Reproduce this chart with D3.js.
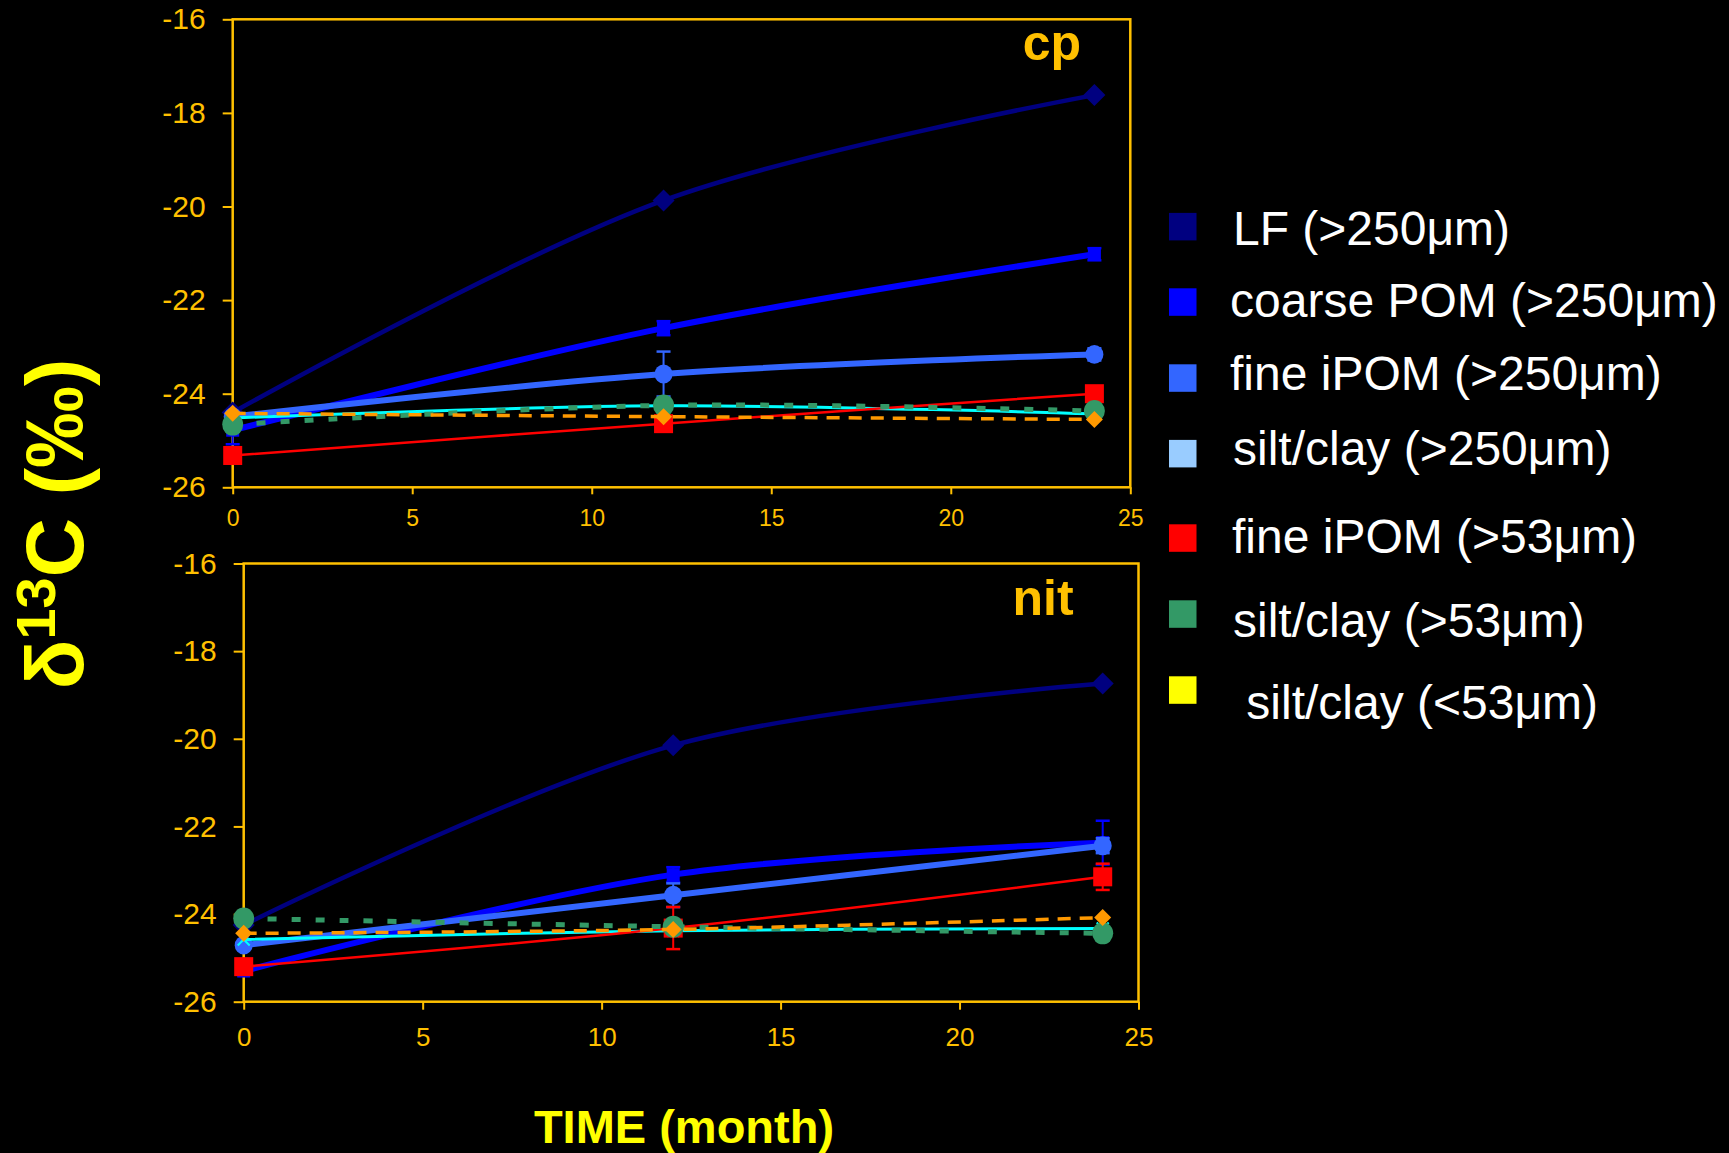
<!DOCTYPE html>
<html>
<head>
<meta charset="utf-8">
<script src="https://cdn.jsdelivr.net/npm/d3@7"></script>
<style>
  body { margin: 0; background: #000; }
  svg { display: block; }
  text { font-family: "Liberation Sans", Arial, sans-serif; }
</style>
</head>
<body>
<div id="chart"></div>
<script>
// sampling times (months)
var months = [0, 12, 24];
var xTicks = [0, 5, 10, 15, 20, 25];
var yTicks = [-16, -18, -20, -22, -24, -26];

var legendLabels = ["LF (>250\u03bcm)", "coarse POM (>250\u03bcm)", "fine iPOM (>250\u03bcm)",
  "silt/clay (>250\u03bcm)", "fine iPOM (>53\u03bcm)", "silt/clay (>53\u03bcm)", " silt/clay (<53\u03bcm)"];
var legendColors = ["#000080", "#0000FF", "#3366FF", "#99CCFF", "#FF0000", "#339966", "#FFFF00"];

// cp panel, delta 13C values
var cpLF       = [-24.40, -19.87, -17.62];
var cpCoarse   = [-24.78, -22.60, -21.02];
var cpFine250  = [-24.49, -23.58, -23.16];
var cpSilt250  = [-24.52, -24.26, -24.43];
var cpFine53   = [-25.32, -24.64, -24.00];
var cpSilt53   = [-24.66, -24.25, -24.37];
var cpSiltFine = [-24.42, -24.49, -24.55];
var cpCoarseErr  = [0.30, 0.15, 0.13];
var cpFine250Err = [0.08, 0.48, 0.13];

// nit panel
var nitLF       = [-24.25, -20.15, -18.74];
var nitCoarse   = [-25.30, -23.10, -22.37];
var nitFine250  = [-24.71, -23.57, -22.44];
var nitSilt250  = [-24.58, -24.38, -24.33];
var nitFine53   = [-25.20, -24.32, -23.15];
var nitSilt53   = [-24.10, -24.29, -24.44];
var nitSiltFine = [-24.44, -24.35, -24.08];
var nitCoarseErr  = [0.05, 0.17, 0.50];
var nitFine250Err = [0.08, 0.27, 0.17];
var nitFine53Err  = [0, 0.48, 0.30];

var gold = "#FFC000";
var width = 1729, height = 1153;

// series look, in Excel order (later ones on top)
var styles = [
  {color: "#000080", w: 4.5, dash: null,    marker: "diamond", s: 11},
  {color: "#0000FF", w: 6,   dash: null,    marker: "square",  s: 6.5},
  {color: "#3366FF", w: 6,   dash: null,    marker: "circle",  s: 9},
  {color: "#00FFFF", w: 3,   dash: null,    marker: "x",       s: 6},
  {color: "#FF0000", w: 2.5, dash: null,    marker: "square",  s: 9.5},
  {color: "#339966", w: 5,   dash: "9,15",  marker: "circle",  s: 10.5},
  {color: "#FF9900", w: 3.5, dash: "13,9",  marker: "diamond", s: 8.5}
];

var panels = [
  {label: "cp", left: 232.7, right: 1130.3, top: 19.3, bottom: 487.3,
   labelX: 1052, labelY: 60, xFont: 23, xPad: 15, xTick: 7,
   series: [cpLF, cpCoarse, cpFine250, cpSilt250, cpFine53, cpSilt53, cpSiltFine],
   errs: [null, cpCoarseErr, cpFine250Err, null, null, null, null]},
  {label: "nit", left: 243.7, right: 1138.5, top: 563.5, bottom: 1001.7,
   labelX: 1043, labelY: 615, xFont: 26, xPad: 18, xTick: 8,
   series: [nitLF, nitCoarse, nitFine250, nitSilt250, nitFine53, nitSilt53, nitSiltFine],
   errs: [null, nitCoarseErr, nitFine250Err, null, nitFine53Err, null, null]}
];

var svg = d3.select("#chart").append("svg")
  .attr("width", width)
  .attr("height", height);

svg.append("rect").attr("width", width).attr("height", height).attr("fill", "#000");

panels.forEach(function(p) {
  var xScale = d3.scaleLinear().domain([0, 25]).range([p.left, p.right]);
  var yScale = d3.scaleLinear().domain([-26, -16]).range([p.bottom, p.top]);
  var g = svg.append("g").attr("class", "panel-" + p.label);

  /* axes */
  var yAxis = d3.axisLeft(yScale).tickValues(yTicks).tickSize(10).tickPadding(17)
    .tickFormat(function(d) { return String(d); });
  var xAxis = d3.axisBottom(xScale).tickValues(xTicks).tickSize(p.xTick).tickPadding(p.xPad)
    .tickFormat(function(d) { return String(d); });

  var ya = g.append("g").attr("transform", "translate(" + p.left + ",0)").call(yAxis);
  var xa = g.append("g").attr("transform", "translate(0," + p.bottom + ")").call(xAxis);
  [ya, xa].forEach(function(a) {
    a.select(".domain").remove();
    a.selectAll(".tick line").attr("stroke", gold).attr("stroke-width", 2);
    a.selectAll(".tick text").attr("fill", gold).style("font-family", '"Liberation Sans", Arial, sans-serif');
  });
  ya.selectAll(".tick text").style("font-size", "30px");
  xa.selectAll(".tick text").style("font-size", p.xFont + "px");

  g.append("rect")
    .attr("x", p.left).attr("y", p.top)
    .attr("width", p.right - p.left).attr("height", p.bottom - p.top)
    .attr("fill", "none").attr("stroke", gold).attr("stroke-width", 2.5);

  /* series */
  var line = d3.line()
    .x(function(d, i) { return xScale(months[i]); })
    .y(function(d) { return yScale(d); })
    .curve(d3.curveCatmullRom.alpha(0.5));

  p.series.forEach(function(vals, k) {
    var st = styles[k];
    var sg = g.append("g").attr("class", "series");
    sg.append("path")
      .attr("d", line(vals))
      .attr("fill", "none")
      .attr("stroke", st.color)
      .attr("stroke-width", st.w)
      .attr("stroke-dasharray", st.dash);

    var err = p.errs[k];
    if (err) {
      vals.forEach(function(v, i) {
        if (!err[i]) return;
        var cx = xScale(months[i]);
        var yt = yScale(v + err[i]), yb = yScale(v - err[i]);
        sg.append("line").attr("x1", cx).attr("x2", cx).attr("y1", yt).attr("y2", yb)
          .attr("stroke", st.color).attr("stroke-width", 2);
        [yt, yb].forEach(function(yy) {
          sg.append("line").attr("x1", cx - 7).attr("x2", cx + 7).attr("y1", yy).attr("y2", yy)
            .attr("stroke", st.color).attr("stroke-width", 2.5);
        });
      });
    }

    vals.forEach(function(v, i) {
      var cx = xScale(months[i]), cy = yScale(v), s = st.s;
      if (st.marker == "diamond") {
        sg.append("path")
          .attr("d", "M" + cx + "," + (cy - s) + "L" + (cx + s) + "," + cy + "L" + cx + "," + (cy + s) + "L" + (cx - s) + "," + cy + "Z")
          .attr("fill", st.color);
      } else if (st.marker == "square") {
        sg.append("rect").attr("x", cx - s).attr("y", cy - s).attr("width", 2 * s).attr("height", 2 * s)
          .attr("fill", st.color);
      } else if (st.marker == "circle") {
        sg.append("ellipse").attr("cx", cx).attr("cy", cy).attr("rx", s).attr("ry", s * 1.05)
          .attr("fill", st.color);
      } else {
        sg.append("path")
          .attr("d", "M" + (cx - s) + "," + (cy - s) + "L" + (cx + s) + "," + (cy + s) + "M" + (cx + s) + "," + (cy - s) + "L" + (cx - s) + "," + (cy + s))
          .attr("stroke", st.color).attr("stroke-width", 2);
      }
    });
  });

  g.append("text")
    .attr("x", p.labelX).attr("y", p.labelY)
    .attr("text-anchor", "middle")
    .attr("fill", gold)
    .style("font-size", "50px").style("font-weight", "bold")
    .text(p.label);
});

/* legend (layout as on the slide) */
var legSquareY = [226.6, 302, 378, 453.6, 538, 614, 690];
var legTextY = [245, 317, 390, 465, 552.5, 636.5, 718.5];
var legTextX = [1233, 1230, 1230, 1233, 1232, 1233, 1233];
var legend = svg.append("g").attr("class", "legend");
legendLabels.forEach(function(lab, i) {
  legend.append("rect")
    .attr("x", 1169).attr("y", legSquareY[i] - 13.7)
    .attr("width", 27.5).attr("height", 27.5)
    .attr("fill", legendColors[i]);
  legend.append("text")
    .attr("x", legTextX[i]).attr("y", legTextY[i])
    .attr("fill", "#fff")
    .attr("xml:space", "preserve")
    .style("white-space", "pre")
    .style("font-size", "48px")
    .text(lab);
});

/* axis titles */
var ytitle = svg.append("text")
  .attr("transform", "translate(83,524) rotate(-90)")
  .attr("text-anchor", "middle")
  .attr("fill", "#FFFF00")
  .style("font-weight", "bold")
  .style("font-size", "82px");
ytitle.append("tspan").text("\u03b4");
ytitle.append("tspan").attr("dy", -28).style("font-size", "56px").text("13");
ytitle.append("tspan").attr("dy", 28).text("C (\u2030)");

svg.append("text")
  .attr("x", 684).attr("y", 1143)
  .attr("text-anchor", "middle")
  .attr("fill", "#FFFF00")
  .style("font-weight", "bold")
  .style("font-size", "47px")
  .text("TIME (month)");
</script>
</body>
</html>
